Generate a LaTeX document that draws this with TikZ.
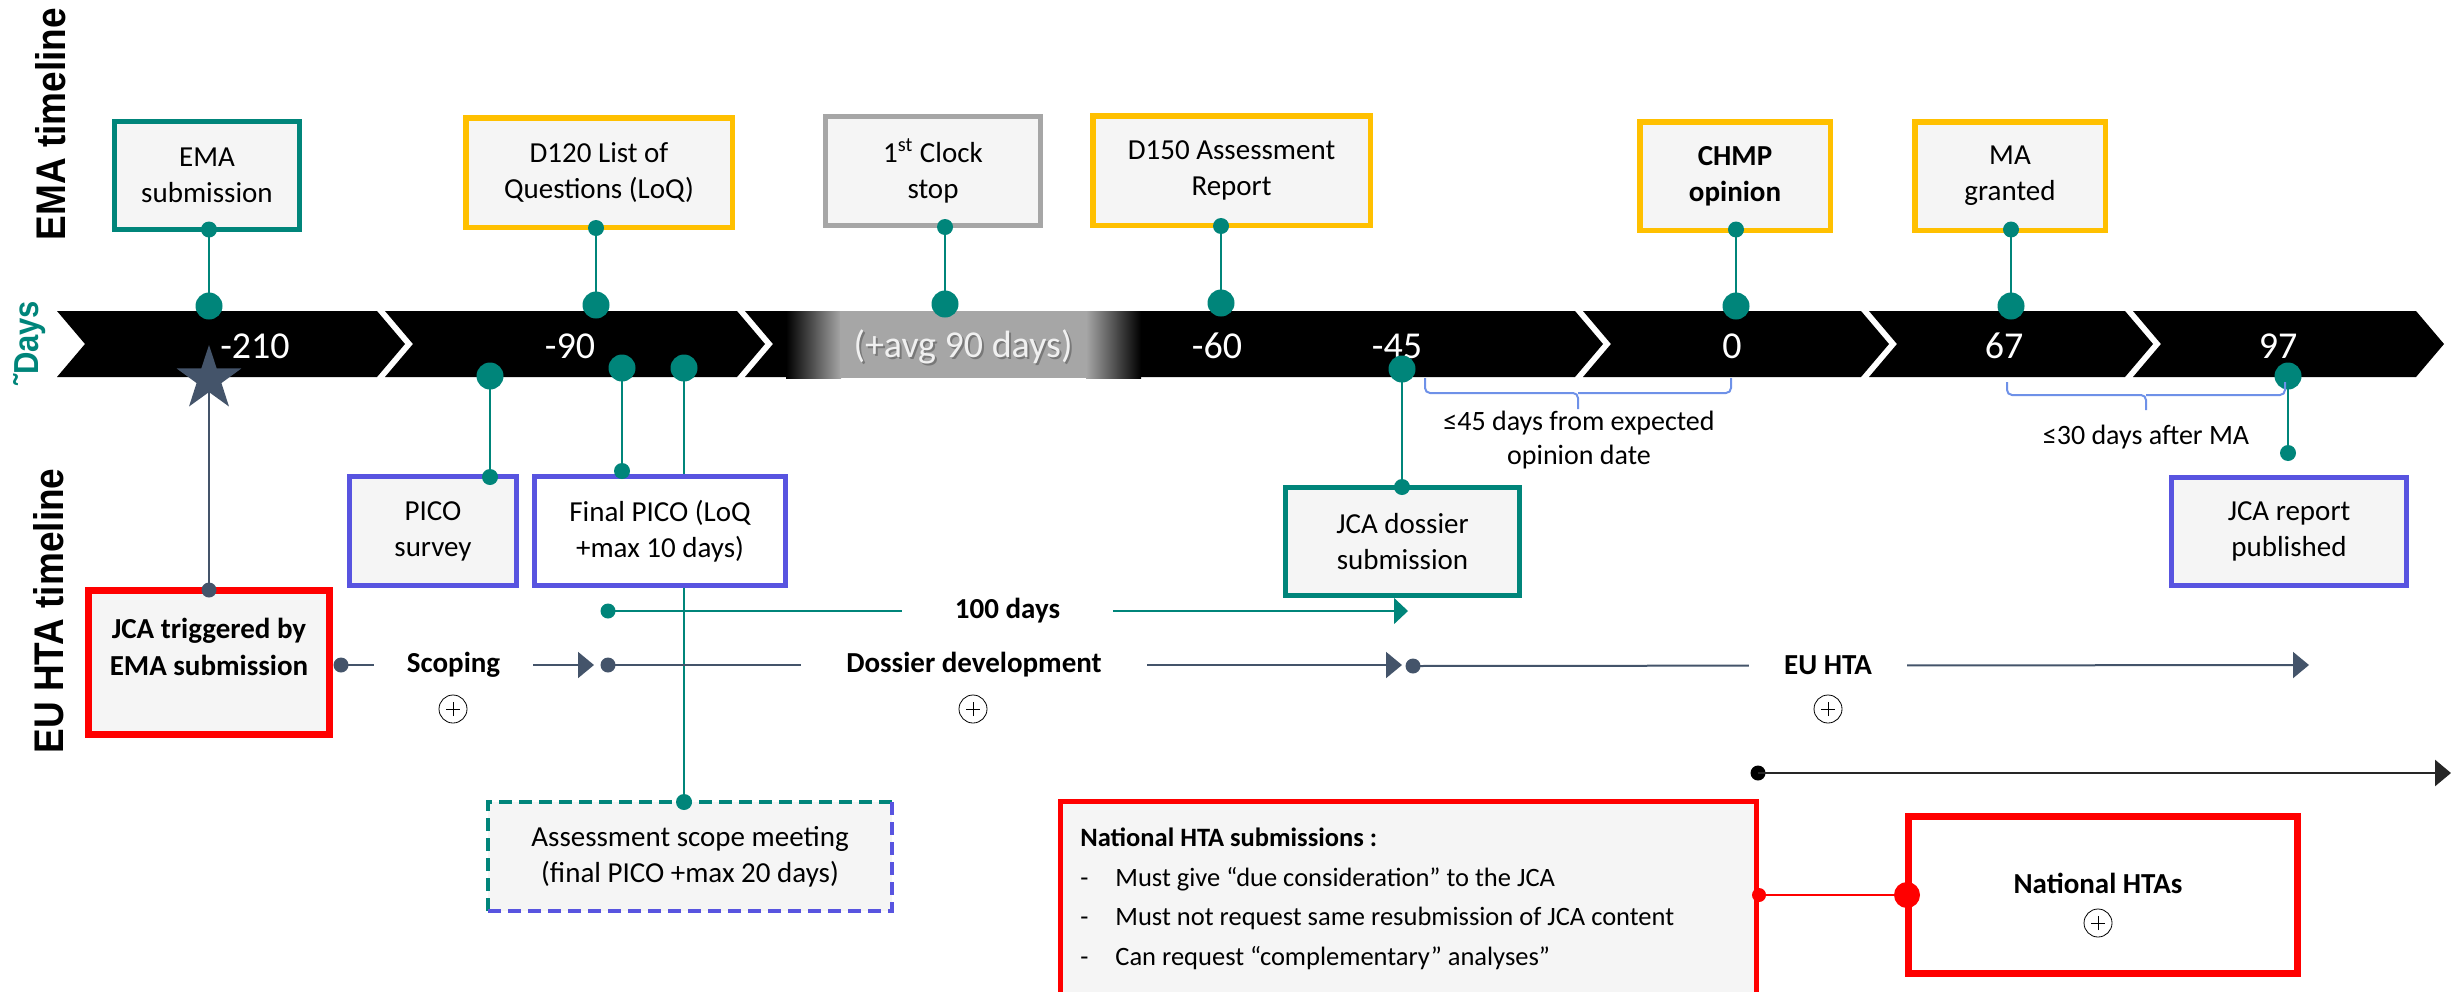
\documentclass[tikz,border=0pt]{standalone}
\usepackage{fontspec}
\usepackage{graphicx}
\setmainfont{Carlito}
\newfontfamily\sidefont{Liberation Sans}
\usetikzlibrary{arrows.meta,shapes.geometric}
\pgfdeclarelayer{bg}
\pgfsetlayers{bg,main}

\definecolor{tealc}{RGB}{0,133,122}
\definecolor{goldc}{RGB}{255,192,0}
\definecolor{greyc}{RGB}{166,166,166}
\definecolor{bluec}{RGB}{88,84,224}
\definecolor{redc}{RGB}{255,0,0}
\definecolor{slatec}{RGB}{68,84,106}
\definecolor{boxfill}{RGB}{245,245,245}
\definecolor{bracec}{RGB}{110,145,232}

\newcommand{\fsz}[2]{\fontsize{#1}{#2}\selectfont}
% one black chevron of the day bar: left and right x of its top edge
\newcommand{\barseg}[2]{\fill[black] (#1,311) -- (#2,311) -- ({#2+28},344) -- (#2,377) -- (#1,377) -- ({#1+28},344) -- cycle;}
% taller glyphs for the rotated side titles
\newcommand{\tallside}[1]{\scalebox{1}[1.12]{#1}}

\begin{document}
\begin{tikzpicture}[x=0.5pt,y=-0.5pt,
  evt/.style={draw, fill=boxfill, align=center, inner sep=0pt, outer sep=0pt, font=\fsz{14.5pt}{18pt}},
  tealbox/.style={evt, draw=tealc, line width=2.3pt},
  goldbox/.style={evt, draw=goldc, line width=2.75pt},
  greybox/.style={evt, draw=greyc, line width=2.5pt},
  bluebox/.style={evt, draw=bluec, line width=2.5pt},
  redbox/.style={evt, draw=redc, line width=3.7pt},
  bigdot/.style={circle, fill=tealc, inner sep=0pt, minimum size=13.5pt},
  smalldot/.style={circle, fill=tealc, inner sep=0pt, minimum size=8pt},
  slatedot/.style={circle, fill=slatec, inner sep=0pt, minimum size=7.5pt},
  link/.style={draw=tealc, line width=0.75pt},
  flow/.style={draw=slatec, line width=1pt},
  daynum/.style={text=white, font=\fsz{19pt}{22pt}, inner sep=0pt},
  sidelab/.style={rotate=90, inner sep=0pt, font=\sidefont\bfseries\fsz{18.5pt}{20pt}},
  stagelabel/.style={fill=white, inner sep=0pt, minimum height=9pt, font=\bfseries\fsz{14.5pt}{17pt}},
  note/.style={inner sep=0pt, align=center, font=\fsz{14pt}{17pt}},
  bracket/.style={draw=bracec, line width=1pt, rounded corners=2.5pt},
  plusmark/.style={circle, draw=black, line width=0.4pt, minimum size=14pt, inner sep=0pt,
    path picture={\draw[line width=0.4pt]
      ([xshift=-3.5pt]path picture bounding box.center) -- ([xshift=3.5pt]path picture bounding box.center)
      ([yshift=-3.5pt]path picture bounding box.center) -- ([yshift=3.5pt]path picture bounding box.center);}},
  tri/.style={-{Triangle[length=8pt,width=13pt]}}
]
\useasboundingbox (0,0) rectangle (2451,991);

% ---- side titles ----
\node[sidelab] (emaLab) at (51,124) {\tallside{EMA timeline}};
\node[sidelab, text=tealc, font=\sidefont\bfseries\fsz{15.5pt}{17pt}] (daysLab) at (30,343) {\tallside{˜Days}};
\node[sidelab] (htaLab) at (49,611) {\tallside{EU HTA timeline}};

% ---- day bar ----
\barseg{57}{377}
\barseg{385}{737}
\barseg{745}{1575}
\barseg{1583}{1861}
\barseg{1869}{2125}
\barseg{2133}{2416}
% clock-stop band
\shade[left color=black, right color=greyc] (786,311) rectangle (841,378);
\fill[greyc] (840,311) rectangle (1087,378);
\shade[left color=greyc, right color=black] (1086,311) rectangle (1141,378);

\node[daynum] (n210) at (255,346) {-210};
\node[daynum] (n90) at (570,346) {-90};
\node[daynum, text=black!70, opacity=0.5] (navgShadow) at (965,349) {(+avg 90 days)};
\node[daynum, text=white!94!black] (navg) at (963,347) {(+avg 90 days)};
\node[daynum] (n60) at (1217,346) {-60};
\node[daynum] (n45) at (1397,346) {-45};
\node[daynum] (n0) at (1732,346) {0};
\node[daynum] (n67) at (2004,346) {67};
\node[daynum] (n97) at (2278,346) {97};

% ---- EMA milestones ----
\node[tealbox, minimum width=92.75pt, minimum height=54.25pt] (emaSub) at (207,175.5) {EMA\\submission};
\node[goldbox, minimum width=133.25pt, minimum height=54.75pt] (d120) at (599,172.5) {D120 List of\\Questions (LoQ)};
\node[greybox, minimum width=107.5pt, minimum height=54.5pt] (clock) at (933,171) {1\textsuperscript{st} Clock\\stop};
\node[goldbox, minimum width=138.75pt, minimum height=54.75pt] (d150) at (1231.5,170.5) {D150 Assessment\\Report};
\node[goldbox, minimum width=95.25pt, minimum height=54.25pt, font=\bfseries\fsz{14.5pt}{18pt}] (chmp) at (1735,176) {CHMP\\opinion};
\node[goldbox, minimum width=95.25pt, minimum height=54.25pt] (ma) at (2010,176) {MA\\granted};

\node[smalldot] (emaTop) at (209,229.5) {};
\node[bigdot] (emaBar) at (209,306) {};
\node[smalldot] (d120Top) at (596,228) {};
\node[bigdot] (d120Bar) at (596,305) {};
\node[smalldot] (clockTop) at (945,227) {};
\node[bigdot] (clockBar) at (945,304) {};
\node[smalldot] (d150Top) at (1221,226) {};
\node[bigdot] (d150Bar) at (1221,303) {};
\node[smalldot] (chmpTop) at (1736,229.5) {};
\node[bigdot] (chmpBar) at (1736,306) {};
\node[smalldot] (maTop) at (2011,229.5) {};
\node[bigdot] (maBar) at (2011,306) {};

% ---- EU HTA milestones ----
\node[bluebox, minimum width=83.5pt, minimum height=54.5pt] (picoSurvey) at (433,531) {PICO\\survey};
\node[bluebox, fill=white, minimum width=125.5pt, minimum height=54.5pt] (finalPico) at (660,531) {Final PICO (LoQ\\+max 10 days)};
\node[tealbox, minimum width=117pt, minimum height=54pt] (jcaDossier) at (1402.5,541.5) {JCA dossier\\submission};
\node[bluebox, minimum width=117.5pt, minimum height=54pt] (jcaReport) at (2289,531.5) {JCA report\\published};

\node[evt, draw=none, minimum width=202pt, minimum height=54.5pt] (scopeMeet) at (690,856.5) {Assessment scope meeting\\(final PICO +max 20 days)};
\draw[tealc, line width=2.2pt, dash pattern=on 6.5pt off 3.5pt] (scopeMeet.south west) -- (scopeMeet.north west) -- (scopeMeet.north east);
\draw[bluec, line width=2.2pt, dash pattern=on 6.5pt off 3.5pt] (scopeMeet.north east) -- (scopeMeet.south east) -- (scopeMeet.south west);

\node[redbox, minimum width=120.25pt, minimum height=71.75pt] (jcaTrig) at (209,662.5) {};
\node[align=center, inner sep=0pt, font=\bfseries\fsz{14.5pt}{18.5pt}] (jcaTrigText) at (209,646.5) {JCA triggered by\\EMA submission};

\node[bigdot] (picoBar) at (490,376) {};
\node[smalldot] (picoTop) at (490,477) {};
\node[bigdot] (finalBar) at (622,368) {};
\node[smalldot] (finalTop) at (622,471) {};
\node[bigdot] (scopeBar) at (684,368) {};
\node[smalldot] (scopeTop) at (684,802) {};
\node[bigdot] (dossBar) at (1402,369) {};
\node[smalldot] (dossTop) at (1402,487) {};
\node[bigdot] (reportBar) at (2288,376) {};
\node[smalldot] (reportEnd) at (2288,453) {};

\node[star, star points=5, star point ratio=2.6, fill=slatec, inner sep=0pt, minimum size=34pt] (trigStar) at (209,379) {};
\node[slatedot] (trigTop) at (209,590) {};

% ---- process rows ----
\node[smalldot, minimum size=7.5pt] (hundredStart) at (608,611) {};
\coordinate (hundredTip) at (1408,611);
\node[slatedot] (trigOut) at (341,665) {};
\coordinate (scopeTip) at (594,665);
\node[slatedot] (dossStart) at (608,665) {};
\coordinate (dossTip) at (1402,665);
\node[slatedot] (htaStart) at (1413,666) {};
\coordinate (htaTip) at (2309,665);

\begin{pgfonlayer}{bg}
  \draw[link] (emaTop.center) -- (emaBar.center);
  \draw[link] (d120Top.center) -- (d120Bar.center);
  \draw[link] (clockTop.center) -- (clockBar.center);
  \draw[link] (d150Top.center) -- (d150Bar.center);
  \draw[link] (chmpTop.center) -- (chmpBar.center);
  \draw[link] (maTop.center) -- (maBar.center);
  \draw[link] (picoBar.center) -- (picoTop.center);
  \draw[link] (finalBar.center) -- (finalTop.center);
  \draw[link] (scopeBar.center) -- (scopeTop.center);
  \draw[link] (dossBar.center) -- (dossTop.center);
  \draw[link] (reportBar.center) -- (reportEnd.center);
  \draw[draw=slatec, line width=0.75pt] (trigStar.center) -- (trigTop.center);
  \draw[link, -{Triangle[length=7pt,width=13pt]}, tealc] (hundredStart.center) -- (hundredTip);
  \draw[flow, tri, slatec] (trigOut.center) -- (scopeTip);
  \draw[flow, tri, slatec] (dossStart.center) -- (dossTip);
  \draw[flow, tri, slatec] (htaStart.center) -- (htaTip);
\end{pgfonlayer}

\node[stagelabel, minimum width=105.5pt] (hundredDays) at (1007.5,611) {100 days};
\node[stagelabel, minimum width=79.5pt] (scoping) at (453.5,665) {Scoping};
\node[stagelabel, minimum width=173pt] (dossierDev) at (974,665) {Dossier development};
\node[stagelabel, minimum width=79pt] (euHta) at (1828,665) {EU HTA};

\node[plusmark] (plusScoping) at (453,709) {};
\node[plusmark] (plusDossier) at (973,709) {};
\node[plusmark] (plusHta) at (1828,709) {};

% ---- windows ----
\draw[bracket] (1425,378) -- (1425,393) -- (1578,393) -- (1578,409);
\draw[bracket] (1578,393) -- (1731,393) -- (1731,378);
\node[note] (window45) at (1579,440) {≤45 days from expected\\opinion date};
\draw[bracket] (2007,382) -- (2007,395) -- (2146,395) -- (2146,410);
\draw[bracket] (2146,395) -- (2285,395) -- (2285,382);
\node[note] (window30) at (2146,437) {≤30 days after MA};

% ---- national level ----
\node[circle, fill=black, inner sep=0pt, minimum size=7.5pt] (natLine) at (1758,773) {};
\coordinate (natLineTip) at (2451,773);
\draw[black!85, line width=1.35pt, tri] (natLine.center) -- (natLineTip);

\node[evt, draw=redc, line width=2.5pt, minimum width=348pt, minimum height=99.25pt] (natSub) at (1408.5,900.75) {};
\node[anchor=base west, inner sep=0pt, font=\bfseries\fsz{13.25pt}{16pt}] (natTitle) at (1080,846.5) {National HTA submissions :};
\node[anchor=base west, inner sep=0pt, font=\fsz{13.25pt}{16pt}] (natL1) at (1080,886.5) {\makebox[17.5pt][l]{-}Must give “due consideration” to the JCA};
\node[anchor=base west, inner sep=0pt, font=\fsz{13.25pt}{16pt}] (natL2) at (1080,925.5) {\makebox[17.5pt][l]{-}Must not request same resubmission of JCA content};
\node[anchor=base west, inner sep=0pt, font=\fsz{13.25pt}{16pt}] (natL3) at (1080,965.5) {\makebox[17.5pt][l]{-}Can request “complementary” analyses”};

\node[evt, draw=redc, fill=white, line width=3.5pt, minimum width=194.5pt, minimum height=78.5pt] (natHta) at (2103,895) {};
\node[inner sep=0pt, font=\bfseries\fsz{14.5pt}{17pt}] (natHtaText) at (2098,883) {National HTAs};
\node[plusmark] (plusNat) at (2098,923) {};

\node[circle, fill=redc, inner sep=0pt, minimum size=7pt] (natOut) at (1759,895) {};
\node[circle, fill=redc, inner sep=0pt, minimum size=13pt] (natIn) at (1907,895) {};
\begin{pgfonlayer}{bg}
  \draw[redc, line width=0.75pt] (natOut.center) -- (natIn.center);
\end{pgfonlayer}
\end{tikzpicture}
\end{document}
